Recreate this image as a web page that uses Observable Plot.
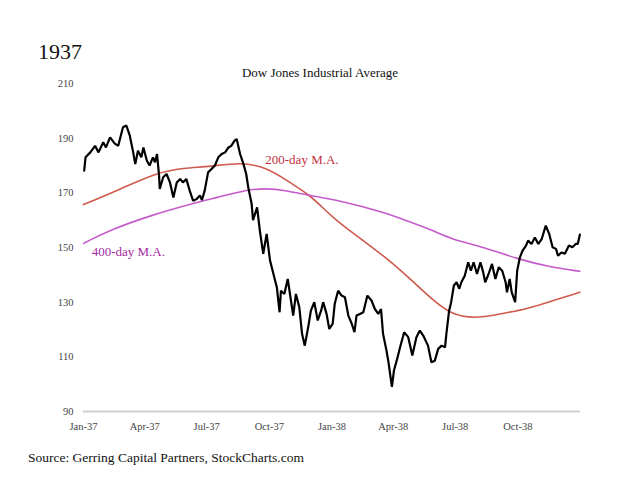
<!DOCTYPE html>
<html>
<head>
<meta charset="utf-8">
<script src="https://cdn.jsdelivr.net/npm/d3@7"></script>
<script src="https://cdn.jsdelivr.net/npm/@observablehq/plot@0.6"></script>
<style>
  html, body { margin: 0; padding: 0; background: #fff; }
  #wrap { position: relative; width: 640px; height: 480px; font-family: "Liberation Serif", "DejaVu Serif", serif; }
  .t { position: absolute; line-height: 1; white-space: nowrap; color: #111; z-index: 2; }
  #year { left: 38px; top: 41px; font-size: 22px; }
  #title { left: 0; width: 640px; text-align: center; top: 66px; font-size: 13px; }
  #source { left: 28px; top: 451px; font-size: 13.5px; }
  #chart { position: absolute; left: 0; top: 70px; z-index: 1; }
</style>
</head>
<body>
<div id="wrap">
  <div id="chart"></div>
  <div class="t" id="year">1937</div>
  <div class="t" id="title">Dow Jones Industrial Average</div>
  <div class="t" id="source">Source: Gerring Capital Partners, StockCharts.com</div>
</div>
<script>
// Dow Jones Industrial Average (approximate readings from the reference)
const djiaDates = [
  "1937-01-02","1937-01-04","1937-01-11","1937-01-18","1937-01-23","1937-01-30","1937-02-03","1937-02-09",
  "1937-02-16","1937-02-21","1937-02-28","1937-03-05","1937-03-10","1937-03-15","1937-03-18","1937-03-22",
  "1937-03-27","1937-03-30","1937-04-04","1937-04-08","1937-04-13","1937-04-16","1937-04-19","1937-04-22",
  "1937-04-23","1937-04-28","1937-05-03","1937-05-08","1937-05-13","1937-05-18","1937-05-23","1937-05-27",
  "1937-06-01","1937-06-06","1937-06-11","1937-06-16","1937-06-21","1937-06-24","1937-06-28","1937-07-03",
  "1937-07-08","1937-07-13","1937-07-18","1937-07-23","1937-07-28","1937-08-02","1937-08-06","1937-08-11",
  "1937-08-14","1937-08-19","1937-08-24","1937-08-28","1937-08-31","1937-09-05","1937-09-07","1937-09-13",
  "1937-09-17","1937-09-22","1937-09-27","1937-10-02","1937-10-07","1937-10-12","1937-10-16","1937-10-18",
  "1937-10-23","1937-10-28","1937-11-01","1937-11-05","1937-11-09","1937-11-14","1937-11-18","1937-11-22",
  "1937-11-27","1937-12-01","1937-12-06","1937-12-11","1937-12-16","1937-12-19","1937-12-24","1937-12-28",
  "1938-01-02","1938-01-05","1938-01-10","1938-01-15","1938-01-20","1938-01-25","1938-01-30","1938-02-03",
  "1938-02-06","1938-02-11","1938-02-16","1938-02-22","1938-02-28","1938-03-05","1938-03-10","1938-03-14",
  "1938-03-17","1938-03-22","1938-03-25","1938-03-30","1938-04-02","1938-04-06","1938-04-11","1938-04-17",
  "1938-04-23","1938-04-29","1938-05-05","1938-05-10","1938-05-15","1938-05-22","1938-05-27","1938-06-01",
  "1938-06-06","1938-06-11","1938-06-16","1938-06-18","1938-06-22","1938-06-25","1938-06-29","1938-07-03",
  "1938-07-07","1938-07-10","1938-07-15","1938-07-20","1938-07-24","1938-07-28","1938-08-02","1938-08-07",
  "1938-08-11","1938-08-14","1938-08-19","1938-08-24","1938-08-29","1938-09-03","1938-09-08","1938-09-13",
  "1938-09-15","1938-09-19","1938-09-22","1938-09-27","1938-09-30","1938-10-04","1938-10-08","1938-10-13",
  "1938-10-16","1938-10-21","1938-10-26","1938-10-31","1938-11-05","1938-11-11","1938-11-16","1938-11-21",
  "1938-11-26","1938-11-29","1938-12-04","1938-12-09","1938-12-15","1938-12-20","1938-12-25","1938-12-28",
  "1938-12-31"
];
const djiaValues = [
  178.1,183.0,184.8,187.2,184.8,188.5,186.6,190.3,
  188.0,187.2,194.0,194.6,190.9,184.8,180.5,185.4,
  183.0,186.6,181.8,180.0,183.0,181.2,184.2,176.3,
  171.4,175.7,176.9,173.8,168.3,173.8,175.1,173.8,
  175.1,170.8,167.1,167.7,169.0,167.4,170.8,177.5,
  178.7,180.0,183.0,184.2,184.8,186.6,187.2,189.1,
  189.7,184.2,180.5,176.9,172.0,165.9,160.0,164.7,
  156.2,147.7,155.0,145.2,140.3,135.4,126.3,134.2,
  133.0,138.5,131.8,125.1,133.0,128.1,118.4,114.1,
  120.8,126.9,130.0,123.3,126.9,130.0,125.7,120.2,
  122.1,129.4,134.2,132.4,131.8,125.1,122.1,119.0,
  125.1,125.7,126.3,132.4,130.6,127.5,125.7,127.5,
  118.4,112.3,108.0,99.0,105.0,108.6,113.5,119.0,
  117.2,110.5,117.2,119.6,117.8,114.1,108.0,108.6,
  112.9,114.1,113.5,118.4,126.9,130.0,136.1,137.3,
  134.9,137.3,139.7,144.6,141.5,144.6,140.3,144.6,
  141.0,137.3,140.3,144.0,138.5,142.8,141.5,137.3,
  133.6,138.5,133.6,130.0,141.5,146.4,148.9,150.7,
  152.5,151.3,153.7,151.3,153.1,158.0,155.0,150.1,
  149.5,147.0,148.2,147.7,150.7,150.1,151.3,151.3,
  154.7
];

// 200-day moving average
const ma200Dates = [
  "1937-01-01","1937-02-19","1937-04-19","1937-05-28","1937-07-06","1937-08-20","1937-09-27",
  "1937-10-27","1937-11-30","1937-12-15","1938-01-08","1938-01-27","1938-02-16","1938-03-27",
  "1938-05-01","1938-05-30","1938-06-24","1938-07-28","1938-09-05","1938-10-14","1938-11-22","1938-12-31"
];
const ma200Values = [
  165.7,170.8,177.5,179.1,179.6,181.2,179.3,
  174.5,169.0,165.3,159.8,156.2,152.5,145.2,
  137.3,130.6,125.7,123.9,125.7,127.5,130.6,133.6
];

// 400-day moving average
const ma400Dates = [
  "1937-01-01","1937-02-09","1937-04-09","1937-06-12","1937-07-16","1937-08-29","1937-09-28",
  "1937-10-22","1937-11-30","1938-01-13","1938-03-18","1938-04-21","1938-05-30","1938-06-24",
  "1938-08-12","1938-09-30","1938-11-18","1938-12-31"
];
const ma400Values = [
  151.5,156.4,161.7,166.2,168.3,171.2,171.6,
  171.0,169.0,167.1,162.9,159.8,156.2,153.1,
  150.1,145.8,142.8,141.3
];

// Line labels
const labelTexts = ["200-day M.A.", "400-day M.A."];
const labelDates = ["1937-09-25", "1937-01-13"];
const labelValues = [182.1, 148.5];

// Axis ticks
const yTicks = [90, 110, 130, 150, 170, 190, 210];
const xTickDates = ["1937-01-01","1937-04-01","1937-07-01","1937-10-01","1938-01-01","1938-04-01","1938-07-01","1938-10-01"];

const parse = d3.utcParse("%Y-%m-%d");
const djia = djiaDates.map((d, i) => ({date: parse(d), value: djiaValues[i]}));
const ma200 = ma200Dates.map((d, i) => ({date: parse(d), value: ma200Values[i]}));
const ma400 = ma400Dates.map((d, i) => ({date: parse(d), value: ma400Values[i]}));
const labels = labelTexts.map((t, i) => ({text: t, date: parse(labelDates[i]), value: labelValues[i]}));
const labelColors = ["#c3303c", "#a52ba0"];

const chart = Plot.plot({
  width: 640,
  height: 375,
  marginLeft: 83,
  marginRight: 60,
  marginTop: 13,
  marginBottom: 34,
  style: {fontFamily: "Liberation Serif, DejaVu Serif, serif", background: "transparent"},
  x: {
    type: "utc",
    domain: [parse("1937-01-01"), parse("1939-01-01")],
    ticks: xTickDates.map(parse),
    tickFormat: d3.utcFormat("%b-%y"),
    tickSize: 0,
    tickPadding: 11,
    label: null
  },
  y: {
    domain: [90, 210],
    ticks: yTicks,
    tickSize: 0,
    tickPadding: 10,
    label: null
  },
  marks: [
    Plot.ruleY([90], {stroke: "#cfcfcf", strokeWidth: 2}),
    Plot.line(ma200, {x: "date", y: "value", stroke: "#cf5a4e", strokeWidth: 1.6, curve: "basis"}),
    Plot.line(ma400, {x: "date", y: "value", stroke: "#c45bcb", strokeWidth: 1.6, curve: "basis"}),
    Plot.line(djia, {x: "date", y: "value", stroke: "#000", strokeWidth: 2.2, strokeLinejoin: "miter"}),
    Plot.text(labels, {x: "date", y: "value", text: "text", textAnchor: "start", fontSize: 13,
      fill: (d) => labelColors[labelTexts.indexOf(d.text)]})
  ]
});
chart.querySelectorAll("g[aria-label$='tick label']").forEach(g => {
  g.setAttribute("font-size", "10.5");
  g.setAttribute("fill", "#444");
});
document.getElementById("chart").appendChild(chart);
</script>
</body>
</html>
